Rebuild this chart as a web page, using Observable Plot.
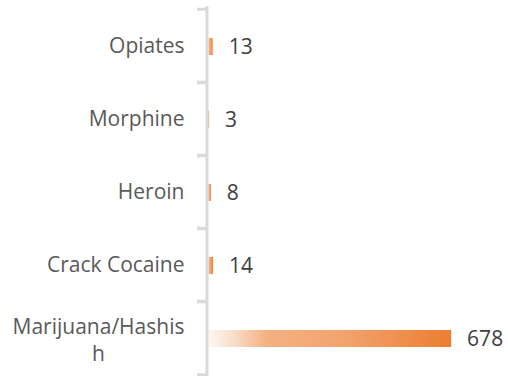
<!DOCTYPE html>
<html>
<head>
<meta charset="utf-8">
<script src="https://cdn.jsdelivr.net/npm/d3@7"></script>
<script src="https://cdn.jsdelivr.net/npm/@observablehq/plot@0.6"></script>
<style>
  html, body { margin: 0; padding: 0; background: #ffffff; }
  #chart { width: 508px; height: 376px; }
</style>
</head>
<body>
<div id="chart"></div>
<script>
const categories = ["Opiates", "Morphine", "Heroin", "Crack Cocaine", "Marijuana/Hashish"];
const values = [13, 3, 8, 14, 678];
const wrappedLabel = "Marijuana/Hashis\nh";

const data = categories.map((c, i) => ({category: c, value: values[i]}));

const W = 508, H = 376;
const mTop = 7, mBottom = 1, mLeft = 208, mRight = 49;
const step = (H - mTop - mBottom) / categories.length;
const gridColor = "#d9d9d9";
const fs = 21;

const plot = Plot.plot({
  width: W,
  height: H,
  marginTop: mTop,
  marginBottom: mBottom,
  marginLeft: mLeft,
  marginRight: mRight,
  style: {fontFamily: "'Open Sans', sans-serif", fontSize: fs + "px", background: "#ffffff"},
  x: {domain: [0, 700], axis: null},
  y: {domain: categories, padding: 0, axis: null},
  marks: [
    Plot.barX(data, {
      x: "value", y: "category",
      fill: "url(#barGrad)",
      insetTop: 29, insetBottom: 27
    }),
    Plot.ruleX([0], {stroke: gridColor, strokeWidth: 3, dx: -1.5, insetTop: -1, insetBottom: -1}),
    Plot.axisY({tickSize: 10, tickFormat: null, text: null, label: null, stroke: gridColor, strokeWidth: 3, dy: -step / 2, dx: -1}),
    Plot.axisY({tickSize: 10, tickFormat: null, text: null, label: null, stroke: gridColor, strokeWidth: 3, dy: step / 2, dx: -1}),
    Plot.axisY({
      tickSize: 0, tickPadding: 24, label: null,
      tickFormat: d => d === "Marijuana/Hashish" ? "" : d,
      fill: "#595959", fontSize: fs
    }),
    Plot.text([categories[4]], {
      y: d => d, frameAnchor: "left",
      text: () => wrappedLabel,
      dx: -110, dy: 1,
      textAnchor: "middle", lineAnchor: "middle", lineHeight: 1.3,
      fill: "#595959", fontSize: fs
    }),
    Plot.text(data, {
      x: "value", y: "category",
      text: d => String(d.value),
      dx: 15.5, dy: 1,
      textAnchor: "start",
      fill: "#404040", fontSize: fs
    })
  ]
});

const svg = d3.select(plot);
const defs = svg.insert("defs", ":first-child");
const grad = defs.append("linearGradient")
  .attr("id", "barGrad")
  .attr("x1", "0%").attr("x2", "100%").attr("y1", "0%").attr("y2", "0%");
[
  ["0%", "#fdf7f2"],
  ["10%", "#f9e0cc"],
  ["24%", "#f4b183"],
  ["55%", "#f2a46f"],
  ["100%", "#ed7d31"]
].forEach(([o, c]) => grad.append("stop").attr("offset", o).attr("stop-color", c));

document.getElementById("chart").appendChild(plot);
</script>
</body>
</html>
